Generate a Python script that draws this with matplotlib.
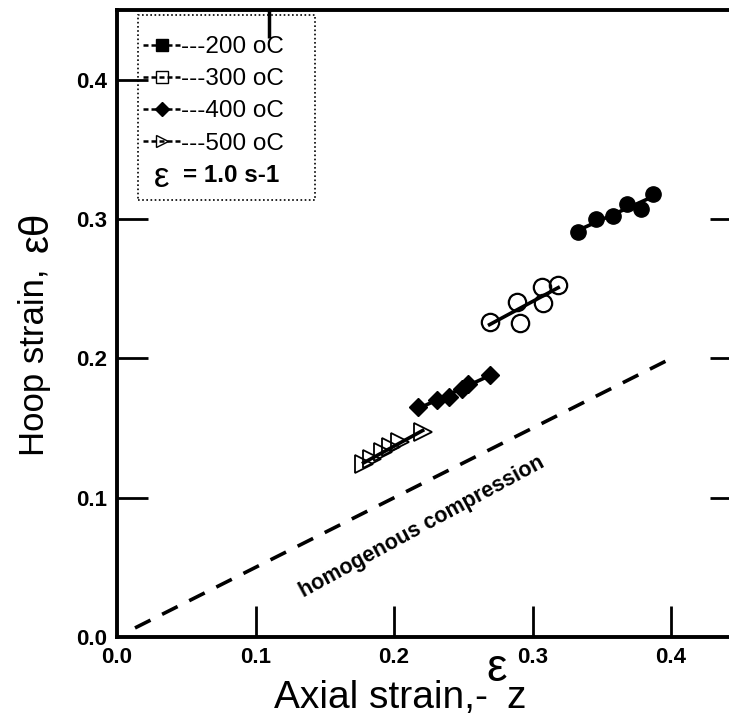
import numpy as np
import matplotlib
matplotlib.use("Agg")
import matplotlib.pyplot as plt
from matplotlib.lines import Line2D
from matplotlib.patches import Rectangle

# ---- data ----
x200 = [0.333, 0.346, 0.358, 0.3685, 0.378, 0.387]
y200 = [0.2906, 0.300, 0.3026, 0.3113, 0.3074, 0.318]
x300 = [0.269, 0.2886, 0.291, 0.3066, 0.3078, 0.3186]
y300 = [0.2265, 0.2404, 0.2253, 0.2514, 0.2395, 0.2526]
x400 = [0.2176, 0.231, 0.240, 0.2489, 0.2537, 0.2693]
y400 = [0.165, 0.170, 0.1726, 0.178, 0.182, 0.188]
x500 = [0.178, 0.184, 0.192, 0.198, 0.204, 0.2207]
y500 = [0.1245, 0.128, 0.133, 0.1364, 0.140, 0.1475]
homog_x = [0.013, 0.40]
homog_y = [0.0065, 0.20]
xticks = [0.0, 0.1, 0.2, 0.3, 0.4]
yticks = [0.0, 0.1, 0.2, 0.3, 0.4]
legend_labels = ["---200 oC", "---300 oC", "---400 oC", "---500 oC"]

plt.rcParams['font.family'] = ['Liberation Sans', 'DejaVu Sans']

fig = plt.figure(figsize=(7.29, 7.19), dpi=100)
ax = fig.add_axes([117/729, 1-637/719, 612/729, 627/719])
ax.set_xlim(0, 612/1385)
ax.set_ylim(0, 627/1392.5)

# homogenous compression line
ax.plot(homog_x, homog_y, color='k', lw=2.6, dashes=(4.8, 3.6))
ax.text(0.2202, 0.079, "homogenous compression", rotation=28.5,
        rotation_mode='anchor', ha='center', va='center',
        fontsize=15.5, fontweight='bold')

def series(xs, ys, **mk):
    xs = np.array(xs); ys = np.array(ys)
    p = np.polyfit(xs, ys, 1)
    xl = np.array([xs.min(), xs.max()])
    ax.plot(xl, np.polyval(p, xl), color='k', lw=2.6, zorder=2)
    ax.plot(xs, ys, linestyle='none', zorder=3, **mk)

series(x200, y200, marker='o', ms=11, mfc='k', mec='k')
series(x300, y300, marker='o', ms=12.5, mfc='none', mec='k', mew=1.6)
series(x400, y400, marker='D', ms=9, mfc='k', mec='k')
series(x500, y500, marker='>', ms=12.5, mfc='none', mec='k', mew=1.3)

# legend box
ax.add_patch(Rectangle((21/612, (637-200)/627), 177/612, 185/627,
                       transform=ax.transAxes, fill=False, ls=(0, (1, 1.5)),
                       lw=1.2, ec='k', zorder=5))
handles = [
    Line2D([], [], color='k', ls=(0, (2, 1.2)), lw=1.8, marker='s', ms=8, mfc='k', mec='k'),
    Line2D([], [], color='k', ls=(0, (2, 1.2)), lw=1.8, marker='s', ms=8, mfc='none', mec='k'),
    Line2D([], [], color='k', ls=(0, (2, 1.2)), lw=1.8, marker='D', ms=7, mfc='k', mec='k'),
    Line2D([], [], color='k', ls=(0, (2, 1.2)), lw=1.8, marker='>', ms=9, mfc='none', mec='k'),
]
leg = ax.legend(handles, legend_labels, loc='upper left',
                bbox_to_anchor=(26/612, (637-36)/627), frameon=False,
                fontsize=17.5, handlelength=1.6, handletextpad=-0.05,
                labelspacing=0.42, borderpad=0, borderaxespad=0, numpoints=1)
ax.text((154-117)/612, (637-178)/627, "ε", transform=ax.transAxes,
        fontsize=25, ha='left', va='center')
ax.text((183-117)/612, (637-176)/627, "= 1.0 s-1", transform=ax.transAxes,
        fontsize=17.5, fontweight='bold', ha='left', va='center')

# spines / ticks
for s in ['left', 'bottom', 'top']:
    ax.spines[s].set_linewidth(2.8)
ax.spines['right'].set_visible(False)
ax.set_xticks(xticks)
ax.set_yticks(yticks)
ax.set_xticklabels([f"{v:.1f}" for v in xticks])
ax.set_yticklabels([f"{v:.1f}" for v in yticks])
ax.tick_params(axis='both', direction='in', length=22, width=2, labelsize=16, pad=7)
for lab in ax.get_xticklabels() + ax.get_yticklabels():
    lab.set_fontweight('bold')
ax.xaxis.get_major_ticks()[0].tick1line.set_visible(False)
ax.yaxis.get_major_ticks()[0].tick1line.set_visible(False)

sec_r = ax.secondary_yaxis('right')
sec_r.set_yticks([0.1, 0.2, 0.3])
sec_r.tick_params(direction='in', length=14, width=2, labelright=False)
sec_r.spines['right'].set_visible(False)
sec_t = ax.secondary_xaxis('top')
sec_t.set_xticks([0.11])
sec_t.tick_params(direction='in', length=20, width=2.5, labeltop=False)
sec_t.spines['top'].set_visible(False)

# axis labels
fig.text(35/729, 1-362/719, "Hoop strain,", rotation=90, ha='center', va='center',
         fontsize=25)
fig.text(37/729, 1-232/719, "εθ", rotation=90, ha='center', va='center',
         fontsize=29)
fig.text(488/729, 1-708/719, "Axial strain,-", ha='right', va='baseline', fontsize=28)
fig.text(486/729, 1-681/719, "ε", ha='left', va='baseline', fontsize=33)
fig.text(506/729, 1-708/719, "z", ha='left', va='baseline', fontsize=28)

fig.savefig("out.png", dpi=100)
